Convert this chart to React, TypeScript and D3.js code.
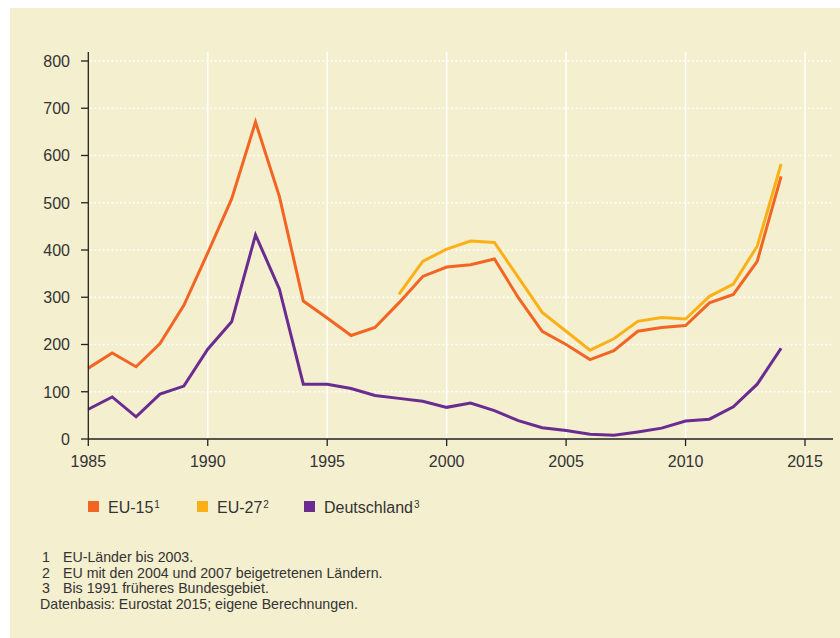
import React from "react";
import * as d3 from "d3";

const years = d3.range(1985, 2015);
const eu15 = [150, 182, 153, 202, 283, 394, 508, 671, 513, 292, 256, 219, 236, 288, 344, 364, 369, 381, 299, 228, 200, 168, 187, 228, 236, 240, 288, 306, 376, 556];
const eu27Years = d3.range(1998, 2015);
const eu27 = [306, 376, 402, 419, 416, 342, 268, 228, 188, 212, 249, 257, 254, 302, 328, 408, 582];
const deutschland = [63, 89, 47, 95, 112, 190, 248, 432, 317, 116, 116, 107, 92, 86, 80, 67, 76, 60, 39, 24, 18, 10, 8, 15, 23, 38, 42, 68, 116, 192];
const yTicks = [0, 100, 200, 300, 400, 500, 600, 700, 800];
const xTicks = [1985, 1990, 1995, 2000, 2005, 2010, 2015];

const series = [
  { name: "EU-15", sup: "1", color: "#f26522", xs: years, ys: eu15 },
  { name: "EU-27", sup: "2", color: "#fbb018", xs: eu27Years, ys: eu27 },
  { name: "Deutschland", sup: "3", color: "#6a2c91", xs: years, ys: deutschland },
];

const notes = [
  ["1", "EU-Länder bis 2003."],
  ["2", "EU mit den 2004 und 2007 beigetretenen Ländern."],
  ["3", "Bis 1991 früheres Bundesgebiet."],
];

const App = () => {
  const x = d3.scaleLinear().domain([1985, 2015]).range([88.3, 805]);
  const y = d3.scaleLinear().domain([0, 800]).range([439, 61]);
  const font = "'Liberation Sans', Arial, sans-serif";
  const ink = "#333";
  const legendX = [88, 197, 304];

  return (
    <div style={{ position: "absolute", left: 0, top: 0 }}>
      <svg width={840} height={638} style={{ display: "block" }}>
        <rect width={840} height={638} fill="#fff" />
        <rect x={10} y={8} width={830} height={630} fill="#f4efcf" />

        {/* grid */}
        {yTicks.filter((t) => t > 0).map((t) => (
          <line key={"gy" + t} x1={90} x2={834} y1={y(t)} y2={y(t)}
            stroke="#fff" strokeWidth={1.6} strokeDasharray="1.8 2.5" />
        ))}
        {xTicks.filter((t) => t > 1985).map((t) => (
          <line key={"gx" + t} x1={x(t)} x2={x(t)} y1={52} y2={439}
            stroke="#fff" strokeWidth={1.5} />
        ))}

        {/* lines */}
        {series.map((s) => {
          const line = d3.line<number>()
            .x((_, i) => x(s.xs[i]))
            .y((v) => y(v));
          return (
            <path key={s.name} d={line(s.ys) || ""} fill="none"
              stroke={s.color} strokeWidth={3} strokeLinejoin="miter" />
          );
        })}

        {/* axes */}
        <line x1={88.3} x2={88.3} y1={52} y2={439} stroke="#222" strokeWidth={1.3} />
        <line x1={88.3} x2={833} y1={439} y2={439} stroke="#222" strokeWidth={1.3} />
        {yTicks.map((t) => (
          <g key={"ty" + t}>
            <line x1={81} x2={88.3} y1={y(t)} y2={y(t)} stroke="#222" strokeWidth={1.3} />
            <text x={70} y={y(t)} dy="0.36em" textAnchor="end" fontFamily={font}
              fontSize={16} fill={ink}>{t}</text>
          </g>
        ))}
        {xTicks.map((t) => (
          <g key={"tx" + t}>
            <line x1={x(t)} x2={x(t)} y1={439} y2={446} stroke="#222" strokeWidth={1.3} />
            <text x={x(t)} y={467} textAnchor="middle" fontFamily={font}
              fontSize={16} fill={ink}>{t}</text>
          </g>
        ))}

        {/* legend */}
        {series.map((s, i) => (
          <g key={"lg" + s.name}>
            <rect x={legendX[i]} y={501} width={11} height={11} fill={s.color} />
            <text x={legendX[i] + 20} y={513} fontFamily={font} fontSize={16} fill={ink}>
              {s.name}
              <tspan fontSize={10} dx={1} dy={-5}>{s.sup}</tspan>
            </text>
          </g>
        ))}

        {/* notes */}
        {notes.map((n, i) => (
          <g key={"n" + i} fontFamily={font} fontSize={14.2} fill={ink}>
            <text x={42} y={562 + i * 15.6}>{n[0]}</text>
            <text x={63} y={562 + i * 15.6}>{n[1]}</text>
          </g>
        ))}
        <text x={40} y={609} fontFamily={font} fontSize={14.2} fill={ink}>
          Datenbasis: Eurostat 2015; eigene Berechnungen.
        </text>
      </svg>
    </div>
  );
};

export default App;
